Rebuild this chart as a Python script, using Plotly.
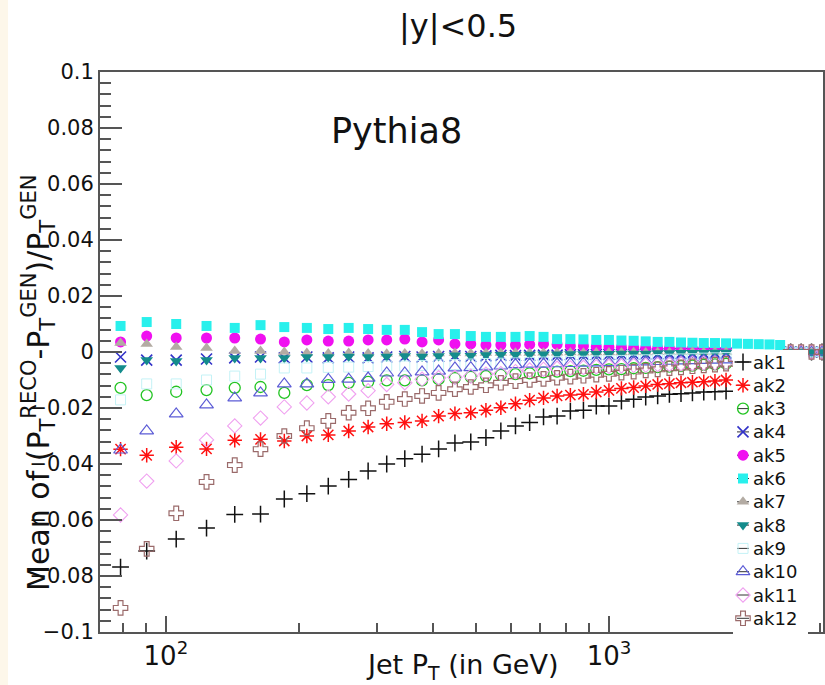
import math
import plotly.graph_objects as go

# ---------------- data ----------------
pt = [79, 90.5, 105.5, 123.5, 143, 163.5, 185, 208, 232.5, 258.5, 286, 315, 346,
      378.5, 412.5, 449, 487.5, 527.5, 570, 615, 662, 711.5, 763.5, 818, 875.5,
      936, 999.5, 1066.5, 1136.5, 1210, 1287.5, 1368.5, 1453.5, 1542.5, 1636,
      1734, 1837]
pt_ext = [1945, 2058, 2177, 2302, 2433]          # extra bins visible for ak6
pt_empty = [2570, 2713.5, 2864, 3024]            # empty bins drawn at 0
empty_vals = [0.0, 0.0, 0.0, 0.0]

ak1 = [-0.0768, -0.0711, -0.0668, -0.0629, -0.0580, -0.0579, -0.0525, -0.0506, -0.0479,
       -0.0455, -0.0425, -0.0400, -0.0381, -0.0365, -0.0346, -0.0325, -0.0321, -0.0306,
       -0.0282, -0.0264, -0.0252, -0.0232, -0.0229, -0.0211, -0.0208, -0.0193, -0.0193,
       -0.0175, -0.0169, -0.0161, -0.0157, -0.0151, -0.0149, -0.0146, -0.0143, -0.0142,
       -0.0140]
ak2 = [-0.0347, -0.0369, -0.0340, -0.0346, -0.0315, -0.0312, -0.0318, -0.0300, -0.0296,
       -0.0282, -0.0268, -0.0256, -0.0252, -0.0246, -0.0229, -0.0220, -0.0217, -0.0208,
       -0.0199, -0.0185, -0.0172, -0.0164, -0.0157, -0.0154, -0.0151, -0.0143, -0.0137,
       -0.0130, -0.0127, -0.0121, -0.0116, -0.0113, -0.0110, -0.0108, -0.0106, -0.0104,
       -0.0100]
ak3 = [-0.0128, -0.0154, -0.0142, -0.0136, -0.0128, -0.0125, -0.0146, -0.0118, -0.0118,
       -0.0110, -0.0107, -0.0101, -0.0101, -0.0101, -0.0097, -0.0093, -0.0089, -0.0086,
       -0.0082, -0.0079, -0.0076, -0.0073, -0.0070, -0.0068, -0.0067, -0.0064, -0.0062,
       -0.0061, -0.0058, -0.0057, -0.0054, -0.0052, -0.0050, -0.0049, -0.0046, -0.0044,
       -0.0042]
ak4 = [-0.0018, -0.0029, -0.0029, -0.0025, -0.0021, -0.0018, -0.0021, -0.0018, -0.0021,
       -0.0018, -0.0021, -0.0018, -0.0016, -0.0018, -0.0016, -0.0014, -0.0016, -0.0014,
       -0.0012, -0.0013, -0.0012, -0.0011, -0.0011, -0.0010, -0.0010, -0.0009, -0.0009,
       -0.0008, -0.0008, -0.0007, -0.0007, -0.0006, -0.0006, -0.0005, -0.0005, -0.0004,
       -0.0004]
ak5 = [0.0036, 0.0057, 0.0050, 0.0050, 0.0050, 0.0046, 0.0036, 0.0043, 0.0039, 0.0039,
       0.0043, 0.0043, 0.0046, 0.0036, 0.0043, 0.0029, 0.0029, 0.0025, 0.0025, 0.0025,
       0.0027, 0.0029, 0.0027, 0.0021, 0.0021, 0.0019, 0.0018, 0.0017, 0.0016, 0.0015,
       0.0014, 0.0013, 0.0012, 0.0012, 0.0011, 0.0010, 0.0010]
ak6 = [0.0093, 0.0107, 0.0100, 0.0093, 0.0086, 0.0096, 0.0089, 0.0086, 0.0082, 0.0086,
       0.0082, 0.0079, 0.0079, 0.0071, 0.0064, 0.0064, 0.0057, 0.0054, 0.0054, 0.0054,
       0.0057, 0.0054, 0.0046, 0.0046, 0.0045, 0.0043, 0.0043, 0.0041, 0.0040, 0.0038,
       0.0036, 0.0036, 0.0034, 0.0033, 0.0032, 0.0032, 0.0031]
ak6_ext = [0.0030, 0.0029, 0.0028, 0.0027, 0.0025]
ak7 = [0.0032, 0.0029, 0.0018, 0.0014, 0.0004, 0.0004, 0.0000, -0.0004, -0.0005, -0.0004,
       -0.0005, -0.0006, -0.0005, -0.0006, -0.0005, -0.0004, -0.0005, -0.0004, -0.0004,
       -0.0003, -0.0004, -0.0003, -0.0003, -0.0002, -0.0003, -0.0002, -0.0002, -0.0002,
       -0.0001, -0.0002, -0.0001, -0.0001, -0.0001, 0.0000, -0.0001, 0.0000, 0.0000]
ak8 = [-0.0057, -0.0029, -0.0032, -0.0029, -0.0021, -0.0021, -0.0021, -0.0018, -0.0018,
       -0.0016, -0.0018, -0.0016, -0.0014, -0.0016, -0.0014, -0.0012, -0.0013, -0.0011,
       -0.0010, -0.0010, -0.0009, -0.0008, -0.0008, -0.0007, -0.0007, -0.0006, -0.0006,
       -0.0005, -0.0005, -0.0005, -0.0004, -0.0004, -0.0003, -0.0003, -0.0003, -0.0002,
       -0.0002]
ak9 = [-0.0171, -0.0114, -0.0114, -0.0100, -0.0086, -0.0079, -0.0057, -0.0057, -0.0055,
       -0.0054, -0.0052, -0.0050, -0.0050, -0.0048, -0.0046, -0.0045, -0.0043, -0.0041,
       -0.0040, -0.0039, -0.0037, -0.0036, -0.0035, -0.0034, -0.0033, -0.0032, -0.0031,
       -0.0030, -0.0029, -0.0028, -0.0027, -0.0026, -0.0025, -0.0024, -0.0022, -0.0021,
       -0.0020]
ak10 = [-0.0350, -0.0282, -0.0221, -0.0189, -0.0164, -0.0146, -0.0114, -0.0114, -0.0098,
        -0.0097, -0.0093, -0.0075, -0.0075, -0.0071, -0.0068, -0.0057, -0.0056, -0.0053,
        -0.0050, -0.0045, -0.0043, -0.0043, -0.0042, -0.0041, -0.0040, -0.0039, -0.0038,
        -0.0037, -0.0036, -0.0035, -0.0034, -0.0033, -0.0032, -0.0031, -0.0030, -0.0029,
        -0.0028]
ak11 = [-0.0582, -0.0461, -0.0389, -0.0314, -0.0264, -0.0236, -0.0196, -0.0182, -0.0160,
        -0.0150, -0.0138, -0.0116, -0.0110, -0.0097, -0.0092, -0.0090, -0.0086, -0.0079,
        -0.0077, -0.0070, -0.0064, -0.0062, -0.0058, -0.0057, -0.0055, -0.0053, -0.0051,
        -0.0050, -0.0048, -0.0047, -0.0045, -0.0044, -0.0042, -0.0041, -0.0040, -0.0039,
        -0.0038]
ak12 = [-0.0914, -0.0703, -0.0576, -0.0464, -0.0404, -0.0347, -0.0300, -0.0272, -0.0246,
        -0.0217, -0.0201, -0.0178, -0.0168, -0.0157, -0.0146, -0.0133, -0.0125, -0.0119,
        -0.0110, -0.0104, -0.0100, -0.0096, -0.0092, -0.0088, -0.0085, -0.0081, -0.0078,
        -0.0074, -0.0070, -0.0066, -0.0062, -0.0058, -0.0055, -0.0051, -0.0048, -0.0045,
        -0.0042]

names = ["ak1", "ak2", "ak3", "ak4", "ak5", "ak6", "ak7", "ak8", "ak9", "ak10", "ak11", "ak12"]
series = [ak1, ak2, ak3, ak4, ak5, ak6, ak7, ak8, ak9, ak10, ak11, ak12]

y_tickvals = [-0.1, -0.08, -0.06, -0.04, -0.02, 0, 0.02, 0.04, 0.06, 0.08, 0.1]
y_ticktext = ["\u22120.1", "\u22120.08", "\u22120.06", "\u22120.04", "\u22120.02", "0",
              "0.02", "0.04", "0.06", "0.08", "0.1"]
x_tickvals = [100, 1000]
x_ticktext = ["10<sup>2</sup>", "10<sup>3</sup>"]
x_minor = [80, 90, 200, 300, 400, 500, 600, 700, 800, 900, 2000, 3000]

# ---------------- styles ----------------
styles = [
    dict(symbol="cross-thin", size=12, color="#111111", line=dict(color="#111111", width=1.5)),
    dict(symbol="asterisk", size=12, color="#ff1010", line=dict(color="#ff1010", width=1.5)),
    dict(symbol="circle-open", size=11, color="#22c422", line=dict(color="#22c422", width=1.3)),
    dict(symbol="x-thin", size=11, color="#3232c8", line=dict(color="#3232c8", width=1.6)),
    dict(symbol="circle", size=11, color="#f010f0", line=dict(width=0)),
    dict(symbol="square", size=10, color="#28f0ec", line=dict(width=0)),
    dict(symbol="triangle-up", size=11, color="#b3aba3", line=dict(width=0)),
    dict(symbol="triangle-down", size=11, color="#148c8c", line=dict(width=0)),
    dict(symbol="square-open", size=10, color="#c4f2f6", line=dict(color="#c4f2f6", width=1)),
    dict(symbol="triangle-up-open", size=12, color="#5c5cd6", line=dict(color="#5c5cd6", width=1.2)),
    dict(symbol="diamond-open", size=11, color="#f0a0f0", line=dict(color="#f0a0f0", width=1.1)),
    dict(symbol="cross-open", size=12, color="#9a6a6a", line=dict(color="#9a6a6a", width=1.2)),
]

W, H = 825, 685
PX_L, PX_R, PX_T, PX_B = 100, 823, 72, 632
FONT = "DejaVu Sans"
AXC = "#555555"

fig = go.Figure()
for name, vals, st in zip(names, series, styles):
    xs = list(pt)
    ys = list(vals)
    if name == "ak6":
        xs += pt_ext
        ys += ak6_ext
    xs += pt_empty
    ys += empty_vals
    fig.add_trace(go.Scatter(x=xs, y=ys, mode="markers", name=name, marker=st,
                             hoverinfo="skip"))

# ---------------- hand-made legend on a full-page overlay subplot ----------------
LEG_L, LEG_R, LEG_T, LEG_B = 733, 808, 350, 637
fig.add_trace(go.Scatter(x=[LEG_L, LEG_R, LEG_R, LEG_L, LEG_L],
                         y=[LEG_T, LEG_T, LEG_B, LEG_B, LEG_T],
                         fill="toself", fillcolor="white", line=dict(width=0),
                         mode="lines", xaxis="x2", yaxis="y2", hoverinfo="skip"))
row0, drow, mx = 362, 23.3, 743
lx, ly = [], []
for i in range(len(names)):
    yy = row0 + drow * i
    lx += [mx - 6, mx + 6, None]
    ly += [yy, yy, None]
fig.add_trace(go.Scatter(x=lx, y=ly, mode="lines", line=dict(color="#333333", width=1),
                         xaxis="x2", yaxis="y2", hoverinfo="skip"))
for i, (name, st) in enumerate(zip(names, styles)):
    yy = row0 + drow * i
    fig.add_trace(go.Scatter(x=[mx], y=[yy], mode="markers", marker=st,
                             xaxis="x2", yaxis="y2", hoverinfo="skip"))
    fig.add_annotation(x=751, y=yy, xref="x2", yref="y2", text=name, showarrow=False,
                       xanchor="left", yanchor="middle",
                       font=dict(family=FONT, size=18, color="#111111"))

# ---------------- text ----------------
fig.add_annotation(x=458, y=26, xref="x2", yref="y2", text="|y|<0.5", showarrow=False,
                   xanchor="center", yanchor="middle", font=dict(family=FONT, size=32, color="#111111"))
fig.add_annotation(x=396, y=131, xref="x2", yref="y2", text="Pythia8", showarrow=False,
                   xanchor="center", yanchor="middle", font=dict(family=FONT, size=35, color="#111111"))
fig.add_annotation(x=462, y=666, xref="x2", yref="y2", text="Jet P<sub>T</sub> (in GeV)",
                   showarrow=False, xanchor="center", yanchor="middle",
                   font=dict(family=FONT, size=27, color="#111111"))
fig.add_annotation(x=38, y=383, xref="x2", yref="y2", textangle=-90,
                   text="Mean of (P<sub>T</sub><sup>RECO</sup>-P<sub>T</sub><sup>GEN</sup>)/P<sub>T</sub><sup>GEN</sup>",
                   showarrow=False, xanchor="center", yanchor="middle",
                   font=dict(family=FONT, size=30, color="#111111"))

fig.update_layout(
    width=W, height=H, autosize=False,
    margin=dict(l=0, r=0, t=0, b=0, pad=0, autoexpand=False),
    paper_bgcolor="white", plot_bgcolor="rgba(0,0,0,0)",
    showlegend=False,
    xaxis=dict(type="log", domain=[PX_L / W, PX_R / W], automargin=False,
               range=[math.log10(71), math.log10(3040)],
               showline=True, linecolor=AXC, linewidth=2, mirror=True,
               ticks="inside", ticklen=16, tickwidth=1.5, tickcolor=AXC,
               tickvals=x_tickvals, ticktext=x_ticktext, ticklabelstandoff=0,
               minor=dict(tickvals=x_minor, ticks="inside", ticklen=9, tickwidth=1.5, tickcolor=AXC),
               showgrid=False, zeroline=False,
               tickfont=dict(family=FONT, size=26, color="#111111")),
    yaxis=dict(domain=[(H - PX_B) / H, (H - PX_T) / H], range=[-0.1, 0.1], automargin=False,
               showline=True, linecolor=AXC, linewidth=2, mirror=True,
               ticks="inside", ticklen=22, tickwidth=1.5, tickcolor=AXC,
               tickvals=y_tickvals, ticktext=y_ticktext,
               minor=dict(dtick=0.004, tick0=0, ticks="inside", ticklen=11, tickwidth=1.5, tickcolor=AXC),
               showgrid=False, zeroline=False,
               tickfont=dict(family=FONT, size=21, color="#111111")),
    xaxis2=dict(domain=[0, 1], range=[0, W], visible=False, anchor="y2", automargin=False),
    yaxis2=dict(domain=[0, 1], range=[H, 0], visible=False, anchor="x2", automargin=False),
    shapes=[dict(type="rect", xref="paper", yref="paper", x0=0, x1=8 / W, y0=0, y1=1,
                 fillcolor="#fdf7ea", line=dict(width=0), layer="below")],
)

fig.write_html("out.html")
